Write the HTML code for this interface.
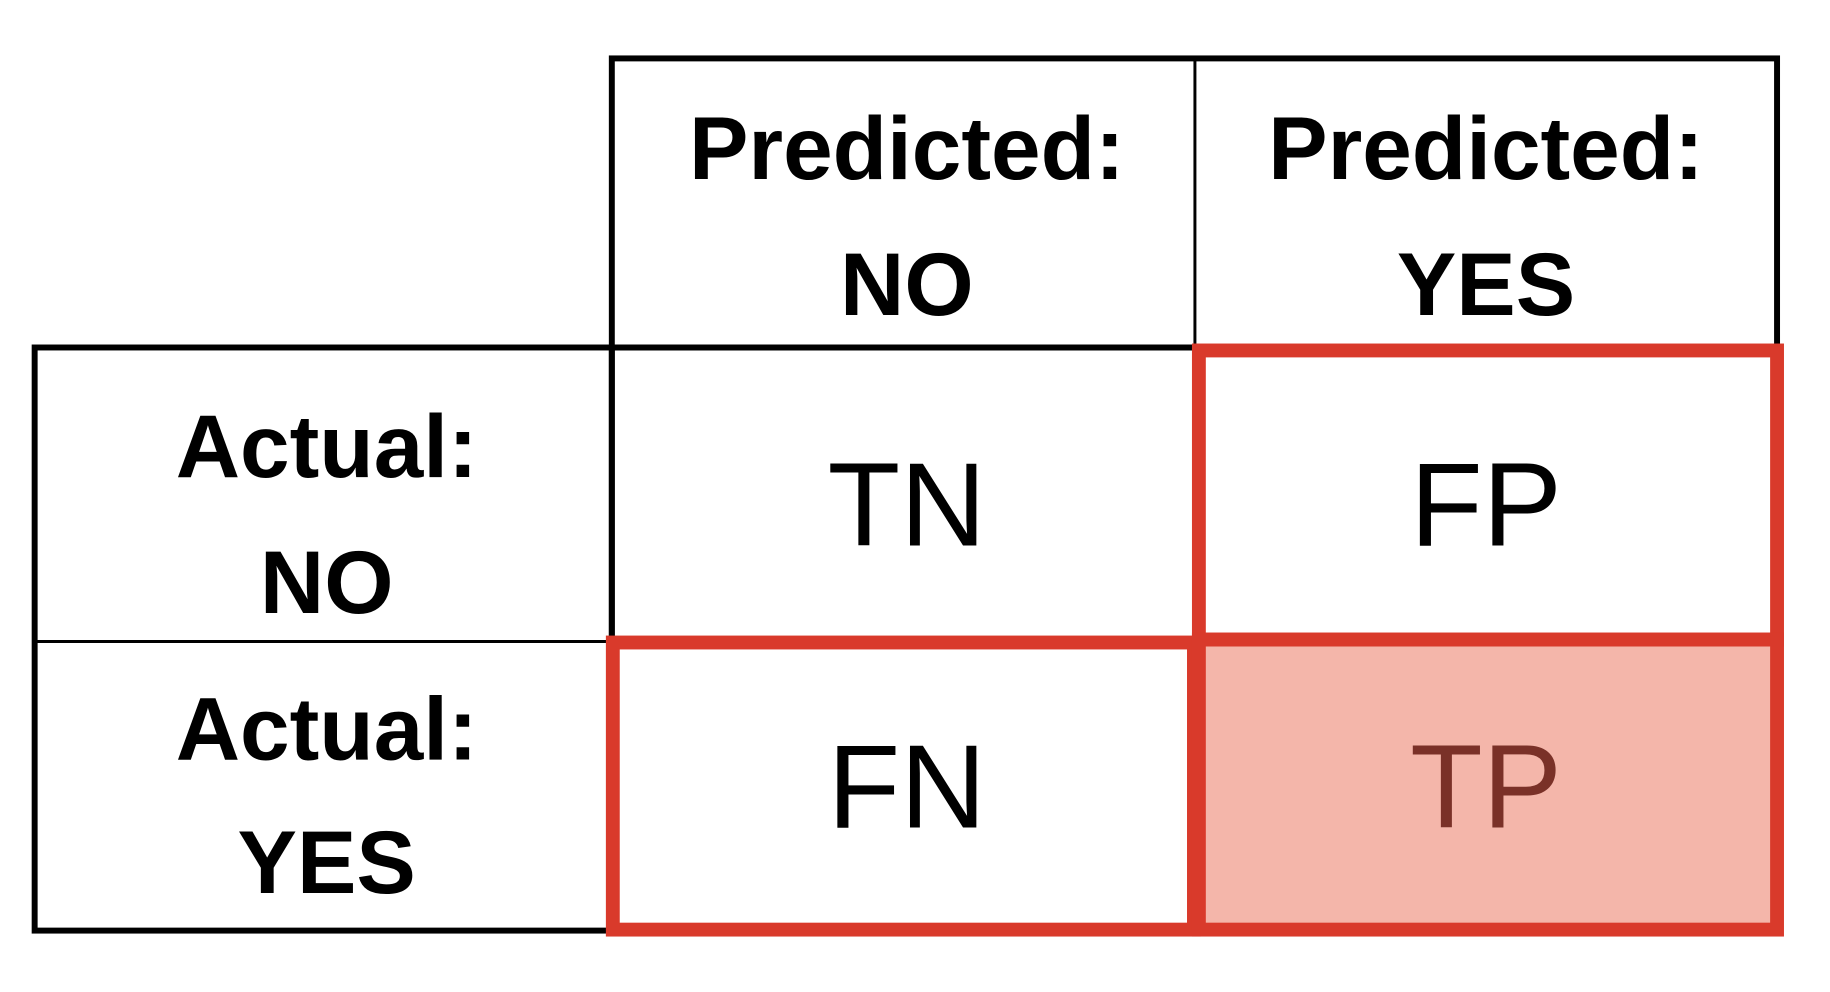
<!DOCTYPE html>
<html><head><meta charset="utf-8"><style>body{margin:0;background:#fff}svg{display:block}</style></head>
<body>
<svg width="1830" height="992" viewBox="0 0 1830 992">
<g transform="scale(0.99)">
<rect x="1213" y="648" width="578" height="290" fill="#f4b6aa"/>
<g stroke="#000" fill="none">
<rect x="618" y="59" width="1177" height="881" stroke-width="6"/>
<rect x="35" y="351" width="583" height="589" stroke-width="6"/>
<line x1="618" y1="351" x2="1795" y2="351" stroke-width="6"/>
<line x1="1207" y1="59" x2="1207" y2="940" stroke-width="3"/>
<line x1="35" y1="648" x2="1795" y2="648" stroke-width="3"/>
</g>
<g font-family="Liberation Sans, sans-serif" font-weight="bold" font-size="90" text-anchor="middle" fill="#000">
<text x="916" y="181">Predicted:</text>
<text x="916" y="318">NO</text>
<text x="1501" y="181">Predicted:</text>
<text x="1501" y="318">YES</text>
<text x="330" y="482">Actual:</text>
<text x="330" y="619">NO</text>
<text x="330" y="767">Actual:</text>
<text x="330" y="902">YES</text>
</g>
<g font-family="Liberation Sans, sans-serif" font-size="120" text-anchor="middle">
<text x="916" y="551" fill="#000">TN</text>
<text x="1501" y="551" fill="#000">FP</text>
<text x="916" y="836" fill="#000">FN</text>
<text x="1501" y="836" fill="#7a3128">TP</text>
</g>
<g stroke="#d93a2b" stroke-width="14" fill="none">
<rect x="1211" y="354" width="584" height="292"/>
<rect x="619" y="649" width="587" height="290"/>
<rect x="1211" y="646" width="584" height="293"/>
</g>
</g>
</svg>
</body></html>
